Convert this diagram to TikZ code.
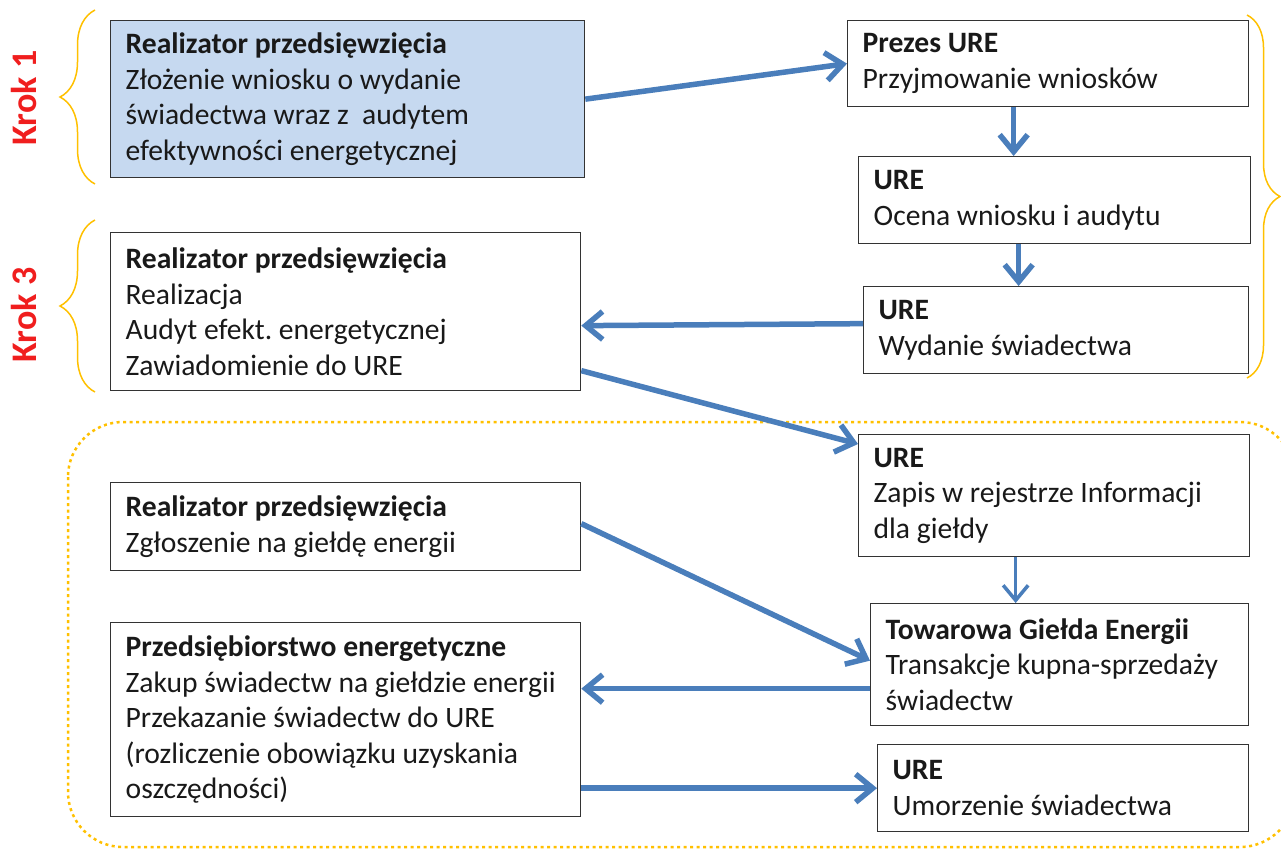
\documentclass[tikz,border=0pt]{standalone}
\usepackage{fontspec}
\setmainfont{Carlito}
\usetikzlibrary{arrows.meta,decorations.pathreplacing,calc}
\definecolor{arrowblue}{HTML}{4A7EBB}
\definecolor{boxblue}{HTML}{C6D9F0}
\definecolor{braceorange}{HTML}{FFC000}
\definecolor{krokred}{HTML}{F01E1E}
\tikzset{
  bx/.style 2 args={draw=black!80, line width=1.3pt, anchor=north west,
    inner xsep=0pt, inner ysep=1pt, text width=#1, minimum height=#2,
    align=left, text=black!90,
    font=\fontsize{29.6}{35.5}\selectfont,
    execute at begin node={\leftskip=15pt\relax\rightskip=0pt plus 1fil\relax
      \spaceskip=0pt\relax\xspaceskip=0pt\relax\frenchspacing}},
  flow/.style={draw=arrowblue, line width=5.5pt,
    -{Straight Barb[length=17pt,width=28pt]}},
  thinflow/.style={draw=arrowblue, line width=3.5pt,
    -{Straight Barb[length=15pt,width=25pt]}},
  bracestyle/.style={draw=braceorange, line width=1.5pt,
    decorate, decoration={brace, amplitude=#1}},
  kroklabel/.style={text=krokred, rotate=90,
    font=\fontsize{36}{40}\selectfont\bfseries}
}
\begin{document}
\begin{tikzpicture}[x=1pt,y=-1pt]
\useasboundingbox (0,0) rectangle (1281,849);
% dotted frame
\begin{scope}
\clip (0,0) rectangle (1281,849);
\draw[braceorange, line width=2.5pt, dash pattern=on 3pt off 3.5pt, rounded corners=55pt]
  (68,422) rectangle (1295,847);
\end{scope}
% boxes
\node[bx={474pt}{157pt}, fill=boxblue] (A) at (110,20)
  {\textbf{Realizator przedsięwzięcia}\\Złożenie wniosku o wydanie\\świadectwa wraz z\ \ audytem\\efektywności energetycznej};
\node[bx={401pt}{86pt}] (B) at (847,20)
  {\textbf{Prezes URE}\\Przyjmowanie wniosków};
\node[bx={392pt}{87pt}] (C) at (858,156)
  {\textbf{URE}\\Ocena wniosku i audytu};
\node[bx={385pt}{87pt}] (D) at (863,286)
  {\textbf{URE}\\Wydanie świadectwa};
\node[bx={470pt}{158pt}] (E) at (110,232)
  {\textbf{Realizator przedsięwzięcia}\\Realizacja\\Audyt efekt. energetycznej\\Zawiadomienie do URE};
\node[bx={391pt}{122pt}] (F) at (858,434)
  {\textbf{URE}\\Zapis w rejestrze Informacji\\dla giełdy};
\node[bx={470pt}{88pt}] (G) at (110,482)
  {\textbf{Realizator przedsięwzięcia}\\Zgłoszenie na giełdę energii};
\node[bx={378pt}{122pt}] (H) at (870,603)
  {\textbf{Towarowa Giełda Energii}\\Transakcje kupna-sprzedaży\\świadectw};
\node[bx={470pt}{194pt}] (I) at (110,622)
  {\textbf{Przedsiębiorstwo energetyczne}\\Zakup świadectw na giełdzie energii\\Przekazanie świadectw do URE\\(rozliczenie obowiązku uzyskania\\oszczędności)};
\node[bx={371pt}{87pt}] (J) at (877,744)
  {\textbf{URE}\\Umorzenie świadectwa};
% braces and labels
\draw[bracestyle=35pt] (95,184) -- (95,10);
\draw[bracestyle=35pt] (95,392) -- (95,220);
\draw[bracestyle=33pt] (1247,15) -- (1247,378);
\node[kroklabel] (K1) at (24,98) {Krok 1};
\node[kroklabel] (K3) at (24,315) {Krok 3};
% connectors
\draw[flow] (A.east) -- (B.west);
\draw[flow] ([xshift=-34.5pt]B.south) -- ([xshift=-41pt]C.north);
\draw[flow] ([xshift=-36pt]C.south) -- ([xshift=-37.5pt]D.north);
\draw[flow] ([yshift=6.5pt]D.west) -- ([yshift=-14pt]E.east);
\draw[flow] ([yshift=-59pt]E.east) -- ([yshift=-10pt]F.north west);
\draw[thinflow] ([xshift=-38.5pt]F.south) -- ([xshift=-44pt]H.north);
\draw[flow] ([yshift=3pt]G.east) -- ([yshift=4pt]H.west);
\draw[flow] ([yshift=-24pt]H.west) -- ([yshift=31pt]I.east);
\draw[flow] (J.west -| I.east) -- (J.west);
\end{tikzpicture}
\end{document}
